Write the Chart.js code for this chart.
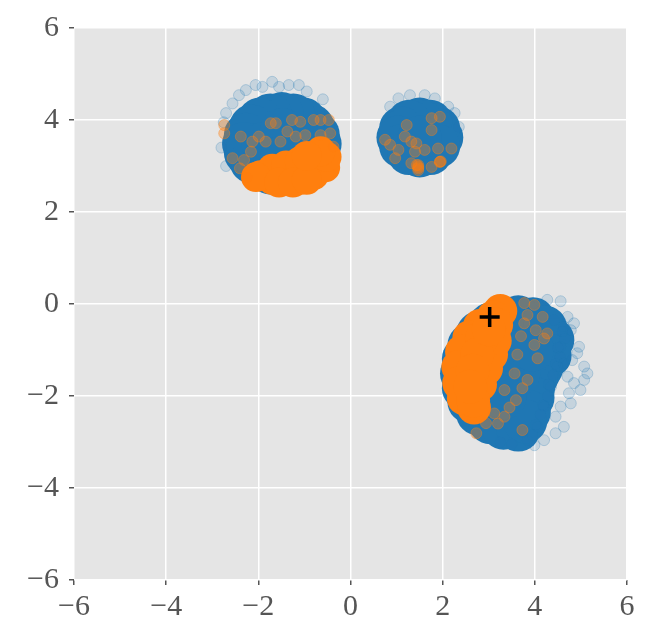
<!DOCTYPE html>
<html>
<head>
<meta charset="utf-8">
<script src="https://cdn.jsdelivr.net/npm/chart.js@4.4.1/dist/chart.umd.min.js"></script>
<style>
  html, body { margin: 0; padding: 0; background: #fff; }
  #wrap { width: 650px; height: 642px; }
</style>
</head>
<body>
<div id="wrap"><canvas id="grafica"></canvas></div>
<script>
// axis ticks
const xTicks = [-6, -4, -2, 0, 2, 4, 6];
const yTicks = [-6, -4, -2, 0, 2, 4, 6];

// dense (saturated) part of the blue cloud, cluster top-left
const blueDenseA = [
  [-0.67, 3.48], [-0.71, 3.68], [-0.83, 3.86], [-1.01, 4.01], [-1.24, 4.10],
  [-1.49, 4.13], [-1.74, 4.10], [-1.97, 4.01], [-2.15, 3.86], [-2.27, 3.68],
  [-2.31, 3.48], [-2.27, 3.28], [-2.15, 3.10], [-1.97, 2.95], [-1.74, 2.86],
  [-1.49, 2.83], [-1.24, 2.86], [-1.01, 2.95], [-0.83, 3.10], [-0.71, 3.28],
  [-1.49, 3.48], [-1.09, 3.48], [-1.89, 3.48], [-1.49, 3.78], [-1.49, 3.18]
];

// cluster top-right
const blueDenseB = [
  [1.97, 3.62], [1.90, 3.82], [1.73, 3.96], [1.50, 4.01], [1.27, 3.96],
  [1.10, 3.82], [1.04, 3.62], [1.10, 3.43], [1.27, 3.28], [1.50, 3.23],
  [1.73, 3.28], [1.90, 3.43], [1.50, 3.62]
];

// cluster bottom-right
const blueDenseC = [
  [3.96, -0.33], [3.64, -0.29], [3.32, -0.33], [3.03, -0.45], [2.77, -0.64],
  [2.58, -0.90], [2.46, -1.19], [2.42, -1.51], [2.46, -1.83], [2.58, -2.12],
  [2.77, -2.38], [3.03, -2.57], [3.32, -2.69], [3.64, -2.73],
  [4.22, -0.51], [4.38, -0.78], [4.32, -1.12], [4.14, -1.38], [4.07, -1.51],
  [4.02, -1.61], [3.98, -1.71], [3.96, -1.83], [3.95, -2.04], [3.87, -2.35],
  [3.79, -2.55],
  [3.64, -1.51], [3.04, -1.51], [3.34, -0.99], [3.94, -0.99], [3.34, -2.03]
];

// loose blue points on the rims
const blueSparse = [
  [-2.06, 4.76], [-1.70, 4.83], [-1.55, 4.72], [-1.12, 4.76], [-2.42, 4.54],
  [-2.56, 4.36], [-2.70, 4.15], [-1.34, 4.76], [-1.91, 4.72], [-2.27, 4.65],
  [-0.95, 4.62], [-0.60, 4.45], [-2.75, 3.95], [-2.80, 3.40], [-2.70, 3.00],
  [1.04, 4.47], [1.29, 4.54], [1.61, 4.54], [1.83, 4.47], [2.12, 4.29],
  [2.26, 4.15], [0.86, 4.29], [2.35, 3.85],
  [4.85, -0.42], [4.96, -0.93], [5.07, -1.36], [4.85, -1.72], [4.99, -1.87],
  [4.78, -2.16], [4.45, -2.45], [4.45, -2.81], [4.20, -2.96], [3.99, -3.07],
  [3.73, -2.78], [4.63, -1.29], [4.71, -1.58], [4.92, -1.07], [4.81, -1.22],
  [4.74, -1.94], [4.56, -2.23], [4.63, -2.67], [5.07, -1.65], [5.14, -1.51],
  [4.71, -0.28], [4.78, -0.57], [4.56, 0.06], [4.27, 0.09],
  [4.56, -0.93], [4.49, -1.36], [4.35, -1.80], [4.20, -2.23], [4.06, -2.67],
  [3.84, -2.96], [4.63, -0.49], [4.42, -0.35],
  [4.50, -0.95], [4.45, -1.30], [4.30, -1.75], [4.18, -2.20], [4.02, -2.62],
  [4.60, -0.60], [4.40, -1.55], [4.28, -2.00], [4.12, -2.40], [3.95, -2.85],
  [3.50, -3.05], [3.25, -3.00], [4.65, -0.75], [4.55, -1.15]
];

// saturated orange parts
const orangeDenseA = [
  [-1.95, 2.80], [-1.70, 2.70], [-1.70, 2.94], [-1.40, 2.68], [-1.40, 3.01],
  [-1.10, 2.70], [-1.10, 3.10], [-0.80, 2.80], [-0.80, 3.18], [-0.55, 2.97],
  [-0.52, 3.20], [-2.05, 2.76], [-1.55, 2.64], [-1.25, 2.64], [-0.95, 2.70],
  [-0.65, 3.32], [-0.95, 3.22]
];

const orangeDenseC = [
  [3.25, -0.15], [3.10, -0.29], [2.81, -0.48], [2.58, -0.73], [2.42, -1.04],
  [2.34, -1.37], [2.36, -1.72], [2.46, -2.05], [2.68, -2.25], [3.16, -0.45],
  [3.13, -0.80], [3.05, -1.10], [2.94, -1.40], [2.81, -1.75], [2.66, -2.10],
  [2.85, -0.75], [2.75, -1.10], [2.65, -1.45], [2.60, -1.80], [3.00, -0.55]
];

// loose orange points
const orangeSparse = [
  [-2.74, 3.89], [-2.74, 3.71], [-2.38, 3.64], [-2.16, 3.31], [-2.56, 3.17],
  [-2.31, 3.13], [-1.99, 3.64], [-1.73, 3.93], [-1.62, 3.93], [-1.37, 3.75],
  [-1.27, 4.00], [-1.09, 3.96], [-0.80, 4.00], [-0.65, 4.00], [-0.47, 4.00],
  [-0.98, 3.67], [-0.65, 3.67], [-0.44, 3.71], [-1.84, 3.53], [-1.52, 3.53],
  [-2.13, 3.53], [-1.19, 3.64], [-0.37, 3.42], [-2.25, 2.75], [-2.40, 2.95],
  [0.75, 3.57], [0.86, 3.46], [0.97, 3.17], [1.18, 3.64], [1.32, 3.53],
  [1.40, 3.31], [1.32, 3.06], [1.47, 3.02], [1.61, 3.35], [1.76, 4.04],
  [1.94, 4.07], [1.90, 3.38], [2.19, 3.38], [1.94, 3.09], [1.76, 2.98],
  [1.22, 3.89], [1.76, 3.78], [1.47, 2.91], [1.04, 3.35], [1.43, 3.49],
  [1.47, 2.98], [1.47, 2.95], [1.94, 3.09], [1.96, 3.10], [1.44, 3.02],
  [3.77, 0.02], [3.99, -0.02], [3.84, -0.24], [4.17, -0.28], [3.77, -0.42],
  [4.02, -0.57], [4.27, -0.64], [4.06, -1.18], [3.84, -1.65], [3.73, -1.83],
  [3.59, -2.09], [3.34, -2.45], [2.94, -2.59], [3.73, -2.74], [3.99, -0.89],
  [4.20, -0.75], [3.56, -1.51], [3.34, -1.87], [3.12, -2.38], [2.73, -2.81],
  [3.70, -0.70], [3.62, -1.10], [3.45, -2.25], [3.20, -2.60]
];

const crossMark = [[3.02, -0.28]];

const aPuntos = arr => arr.map(([x, y]) => ({x: x, y: y}));
const menos = v => (v < 0 ? "\u2212" + Math.abs(v) : String(v));

const fondo = {
  id: "fondo",
  beforeDraw(chart) {
    const {ctx, chartArea: a} = chart;
    ctx.save();
    ctx.fillStyle = "#E5E5E5";
    ctx.fillRect(a.left, a.top, a.right - a.left, a.bottom - a.top);
    ctx.restore();
  }
};

const fuente = {family: "'Liberation Serif', 'DejaVu Serif', serif", size: 30};

const eje = (ticks, esX) => ({
  type: "linear",
  min: -6,
  max: 6,
  afterBuildTicks: s => { s.ticks = ticks.map(v => ({value: v})); },
  afterFit: s => { if (esX) { s.height = 62; } else { s.width = 74; } },
  grid: {color: "#ffffff", lineWidth: 1.5, tickColor: "#555555", tickLength: 5, drawTicks: true},
  border: {display: false},
  ticks: {color: "#555555", font: fuente, padding: esX ? 4 : 10, callback: menos}
});

new Chart("grafica", {
  type: "scatter",
  data: {
    datasets: [
      {data: aPuntos(crossMark), order: 0, pointStyle: "cross", pointRadius: 10,
        borderColor: "#000", borderWidth: 3.5, backgroundColor: "#000"},
      {data: aPuntos(orangeSparse), order: 1, pointRadius: 5.5, borderWidth: 1,
        backgroundColor: "rgba(255,127,14,0.35)", borderColor: "rgba(255,127,14,0.4)"},
      {data: aPuntos(orangeDenseA), order: 2, pointRadius: 15, borderWidth: 0,
        backgroundColor: "#ff7f0e"},
      {data: aPuntos(orangeDenseC), order: 2, pointRadius: 17, borderWidth: 0,
        backgroundColor: "#ff7f0e"},
      {data: aPuntos(blueSparse), order: 3, pointRadius: 5.5, borderWidth: 1,
        backgroundColor: "rgba(31,119,180,0.16)", borderColor: "rgba(31,119,180,0.25)"},
      {data: aPuntos(blueDenseA.concat(blueDenseB, blueDenseC)), order: 4, pointRadius: 22,
        borderWidth: 0, backgroundColor: "#1f77b4"}
    ]
  },
  plugins: [fondo],
  options: {
    responsive: true,
    maintainAspectRatio: false,
    animation: false,
    events: [],
    layout: {padding: {top: 28, right: 23, left: 0, bottom: 0}},
    scales: {x: eje(xTicks, true), y: eje(yTicks, false)},
    plugins: {legend: {display: false}, tooltip: {enabled: false}}
  }
});
</script>
</body>
</html>
